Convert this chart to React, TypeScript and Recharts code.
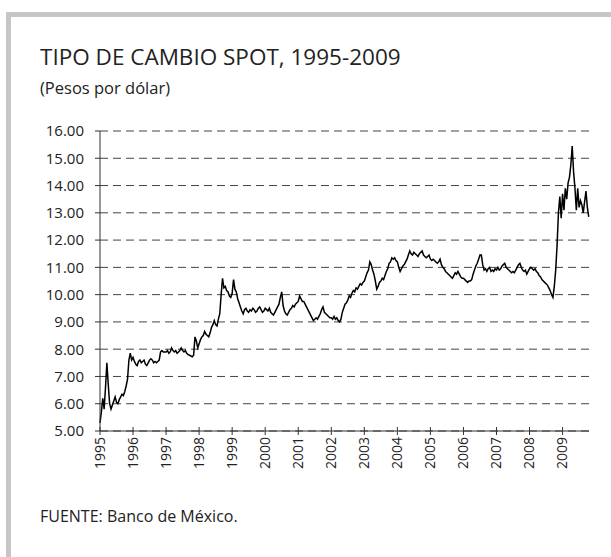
import React from "react"
import { LineChart, Line, XAxis, YAxis, CartesianGrid } from "recharts"

// Tipo de cambio spot, pesos por dólar, two readings per month
const values1995 = [5.3, 5.7, 6.2, 5.8, 6.6, 7.5, 6.7, 6.0, 5.8, 5.95, 6.1, 6.25, 6.05, 6.0, 6.15, 6.25, 6.35, 6.3, 6.45, 6.65, 6.9, 7.6, 7.85, 7.6]
const values1996 = [7.7, 7.55, 7.45, 7.4, 7.55, 7.6, 7.5, 7.55, 7.6, 7.45, 7.4, 7.5, 7.6, 7.65, 7.6, 7.5, 7.55, 7.5, 7.55, 7.6, 7.9, 7.95, 7.9, 7.9]
const values1997 = [7.9, 7.95, 7.85, 7.9, 8.05, 7.95, 7.9, 7.95, 7.85, 7.9, 7.95, 8.05, 7.95, 7.9, 7.95, 7.85, 7.8, 7.78, 7.75, 7.72, 7.78, 8.45, 8.3, 8.05]
const values1998 = [8.2, 8.35, 8.45, 8.5, 8.65, 8.55, 8.5, 8.45, 8.6, 8.8, 8.9, 9.05, 8.9, 8.85, 9.1, 9.3, 10.0, 10.6, 10.25, 10.3, 10.15, 10.1, 9.95, 9.9]
const values1999 = [10.05, 10.55, 10.2, 10.1, 9.85, 9.7, 9.55, 9.4, 9.3, 9.45, 9.5, 9.4, 9.35, 9.45, 9.4, 9.5, 9.45, 9.35, 9.4, 9.5, 9.55, 9.45, 9.35, 9.4]
const values2000 = [9.5, 9.45, 9.4, 9.5, 9.35, 9.3, 9.25, 9.35, 9.45, 9.55, 9.65, 9.9, 10.1, 9.6, 9.4, 9.3, 9.25, 9.35, 9.45, 9.5, 9.6, 9.55, 9.65, 9.7]
const values2001 = [9.75, 9.95, 9.85, 9.75, 9.75, 9.65, 9.55, 9.45, 9.35, 9.25, 9.15, 9.05, 9.1, 9.15, 9.1, 9.2, 9.3, 9.45, 9.55, 9.35, 9.3, 9.25, 9.2, 9.15]
const values2002 = [9.15, 9.1, 9.2, 9.1, 9.15, 9.05, 9.0, 9.1, 9.35, 9.5, 9.65, 9.7, 9.8, 9.95, 9.9, 10.05, 10.15, 10.1, 10.25, 10.2, 10.3, 10.4, 10.35, 10.45]
const values2003 = [10.5, 10.65, 10.8, 10.9, 11.2, 11.1, 10.9, 10.75, 10.5, 10.2, 10.3, 10.45, 10.5, 10.6, 10.55, 10.7, 10.85, 10.95, 11.15, 11.2, 11.35, 11.3, 11.35, 11.25]
const values2004 = [11.2, 11.0, 10.85, 10.95, 11.05, 11.1, 11.2, 11.3, 11.45, 11.6, 11.5, 11.45, 11.55, 11.5, 11.45, 11.4, 11.5, 11.55, 11.6, 11.45, 11.4, 11.35, 11.4, 11.45]
const values2005 = [11.3, 11.25, 11.3, 11.25, 11.2, 11.15, 11.2, 11.3, 11.1, 11.0, 10.95, 10.85, 10.8, 10.75, 10.7, 10.65, 10.6, 10.7, 10.8, 10.75, 10.85, 10.75, 10.65, 10.6]
const values2006 = [10.6, 10.55, 10.5, 10.45, 10.5, 10.5, 10.55, 10.75, 10.9, 11.05, 11.15, 11.3, 11.45, 11.45, 11.1, 10.9, 10.95, 10.85, 10.95, 11.0, 10.85, 10.9, 10.85, 10.95]
const values2007 = [10.9, 11.0, 10.9, 10.95, 11.05, 11.1, 11.15, 11.0, 10.95, 10.9, 10.85, 10.8, 10.85, 10.8, 10.9, 11.0, 11.1, 11.15, 11.0, 10.9, 10.85, 10.9, 10.75, 10.85]
const values2008 = [10.95, 11.0, 10.95, 10.9, 10.95, 10.85, 10.8, 10.7, 10.65, 10.55, 10.5, 10.45, 10.4, 10.35, 10.25, 10.15, 10.0, 9.9, 10.3, 10.9, 11.8, 13.0, 13.6, 12.8]
const values2009 = [13.7, 13.1, 13.9, 13.5, 14.1, 14.3, 14.75, 15.45, 14.5, 13.9, 13.1, 13.9, 13.2, 13.45, 13.3, 13.0, 13.4, 13.8, 13.2, 12.85]

const years = [1995, 1996, 1997, 1998, 1999, 2000, 2001, 2002, 2003, 2004, 2005, 2006, 2007, 2008, 2009]
const seriesByYear = [
  values1995, values1996, values1997, values1998, values1999, values2000, values2001, values2002,
  values2003, values2004, values2005, values2006, values2007, values2008, values2009,
]
const yTicks = [5, 6, 7, 8, 9, 10, 11, 12, 13, 14, 15, 16]

const data = seriesByYear.flatMap((vals, i) =>
  vals.map((v, k) => ({ t: years[i] + k / 24, spot: v }))
)

const FONT = "'Open Sans', 'Noto Sans', sans-serif"

function YearTick(props: any) {
  const { x, y, payload } = props
  return (
    <g>
      <line x1={x} y1={y - 4} x2={x} y2={y + 4} stroke="#333" strokeWidth={1} />
      <text
        x={x}
        y={y + 6}
        transform={`rotate(-90, ${x}, ${y + 6})`}
        textAnchor="end"
        dy="0.35em"
        fontSize={14}
        fontFamily={FONT}
        fill="#222"
      >
        {payload.value}
      </text>
    </g>
  )
}

export default function App() {
  return (
    <div style={{ position: "absolute", left: 0, top: 0, width: 611, height: 557, background: "#fff", overflow: "hidden" }}>
      <div
        style={{
          position: "absolute", left: 6, top: 12, width: 700, height: 700,
          borderTop: "5px solid #c6c6c6", borderLeft: "5px solid #c6c6c6",
        }}
      />
      <div style={{ position: "absolute", left: 40, top: 41, fontFamily: FONT, fontSize: 22.5, color: "#222", whiteSpace: "nowrap" }}>
        TIPO DE CAMBIO SPOT, 1995-2009
      </div>
      <div style={{ position: "absolute", left: 40, top: 76, fontFamily: FONT, fontSize: 16.5, color: "#222", whiteSpace: "nowrap" }}>
        (Pesos por dólar)
      </div>
      <div style={{ position: "absolute", left: 0, top: 0 }}>
        <LineChart width={611} height={557} data={data} margin={{ top: 131, right: 22, bottom: 86, left: 40 }}>
          <CartesianGrid horizontal vertical={false} stroke="#444" strokeDasharray="8 5" />
          <XAxis
            dataKey="t"
            type="number"
            domain={[1995, 2009.8]}
            ticks={years}
            interval={0}
            height={40}
            tickSize={0}
            tickMargin={0}
            tickLine={false}
            tick={<YearTick />}
            axisLine={{ stroke: "#333" }}
          />
          <YAxis
            type="number"
            domain={[5, 16]}
            ticks={yTicks}
            interval={0}
            width={60}
            tickSize={5}
            tickMargin={11}
            tickFormatter={(v: number) => v.toFixed(2)}
            tick={{ fontSize: 15, fontFamily: FONT, fill: "#222" }}
            tickLine={{ stroke: "#333" }}
            axisLine={{ stroke: "#333" }}
          />
          <Line
            type="linear"
            dataKey="spot"
            stroke="#000"
            strokeWidth={1.5}
            dot={false}
            isAnimationActive={false}
          />
        </LineChart>
      </div>
      <div style={{ position: "absolute", left: 40, top: 505, fontFamily: FONT, fontSize: 16, color: "#222", whiteSpace: "nowrap" }}>
        FUENTE: Banco de México.
      </div>
    </div>
  )
}
